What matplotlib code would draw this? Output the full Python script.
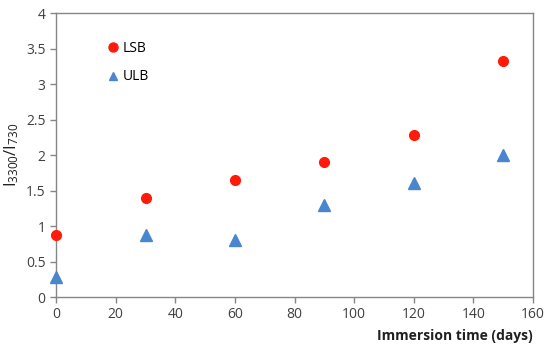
import matplotlib
matplotlib.use("Agg")
import matplotlib.pyplot as plt

plt.rcParams['font.family'] = ['Open Sans', 'DejaVu Sans']

days = [0, 30, 60, 90, 120, 150]
lsb = [0.88, 1.40, 1.65, 1.90, 2.28, 3.33]
ulb = [0.28, 0.88, 0.81, 1.29, 1.61, 2.00]

fig = plt.figure(figsize=(5.5, 3.54), dpi=100)
ax = fig.add_axes([0.102, 0.161, 0.867, 0.802])

ax.plot(days, lsb, 'o', color='#ff1a0a', markersize=7, label='LSB', clip_on=False, zorder=3)
ax.plot(days, ulb, '^', color='#4a86d0', markersize=8, label='ULB', clip_on=False, zorder=3)

ax.set_xlim(0, 160)
ax.set_ylim(0, 4)
ax.set_xticks(range(0, 161, 20))
ax.set_yticks([0, 0.5, 1, 1.5, 2, 2.5, 3, 3.5, 4])
ax.set_yticklabels(['0', '0.5', '1', '1.5', '2', '2.5', '3', '3.5', '4'])

for s in ax.spines.values():
    s.set_color('#868686')
    s.set_linewidth(1)
ax.tick_params(colors='#404040', labelsize=10, length=4, direction='out', width=1)
ax.tick_params(axis='both', color='#868686')

ax.set_ylabel(r'$\mathregular{I_{3300}/I_{730}}$', fontsize=12, color='#202020', labelpad=4)
fig.text(0.969, 0.03, 'Immersion time (days)', ha='right', va='bottom',
         fontsize=10, fontweight='bold', color='#202020')

leg = ax.legend(loc='upper left', bbox_to_anchor=(0.075, 0.945), frameon=False,
                fontsize=10, handletextpad=0.1, labelspacing=0.95, handlelength=1.2)
leg.legend_handles[0].set_markersize(6.5)
leg.legend_handles[1].set_markersize(6)

fig.savefig('out.png', dpi=100)
